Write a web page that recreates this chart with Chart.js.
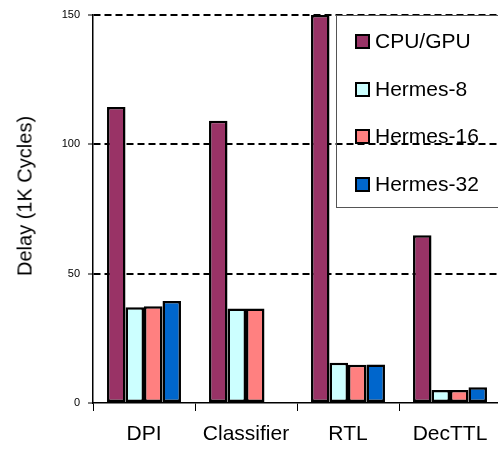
<!DOCTYPE html>
<html>
<head>
<meta charset="utf-8">
<script src="https://cdn.jsdelivr.net/npm/chart.js@4.4.0/dist/chart.umd.min.js"></script>
<style>
    body { margin: 0; overflow: hidden; background: #fff; }
    #wrap { position: relative; width: 498px; height: 451px; overflow: hidden; }
    #myChart { position: absolute; left: 0; top: 0; }
    #ytitle {
        position: absolute; left: 25px; top: 196px;
        transform: translate(-50%, -50%) rotate(-90deg);
        white-space: nowrap; font: 20px "Liberation Sans", Arial, sans-serif; color: #000;
    }
    #legend {
        position: absolute; left: 336px; top: 15px; width: 200px; height: 191px;
        border: 1px solid #555; font: 21px "Liberation Sans", Arial, sans-serif; color: #000;
    }
    .row { position: absolute; left: 18px; height: 24px; display: flex; align-items: center; white-space: nowrap; }
    .box { width: 11px; height: 11px; border: 2px solid #000; margin-right: 5px; }
</style>
</head>
<body>
<div id="wrap">
    <canvas id="myChart" width="504" height="451"></canvas>
    <div id="ytitle">Delay (1K Cycles)</div>
    <div id="legend"></div>
</div>
<script>
const categories = ['DPI', 'Classifier', 'RTL', 'DecTTL'];
const seriesNames = ['CPU/GPU', 'Hermes-8', 'Hermes-16', 'Hermes-32'];
const seriesColors = ['#993366', '#CCFFFF', '#FF8080', '#0066CC'];

const cpuGpu = [114.4, 109.1, 150, 64.9];
const hermes8 = [37.0, 36.5, 15.6, 5.0];
const hermes16 = [37.4, 36.5, 14.8, 5.0];
const hermes32 = [39.4, null, 14.9, 6.1];

const yTicks = [0, 50, 100, 150];

const values = [cpuGpu, hermes8, hermes16, hermes32];

document.addEventListener('DOMContentLoaded', function() {
    // legend rows, built from the series names and colours
    const legend = document.getElementById('legend');
    const rowTops = [13, 61, 108, 156];
    seriesNames.forEach((name, i) => {
        const row = document.createElement('div');
        row.className = 'row';
        row.style.top = rowTops[i] + 'px';
        row.innerHTML = '<div class="box" style="background:' + seriesColors[i] + '"></div><span>' + name + '</span>';
        legend.appendChild(row);
    });

    var ctx = document.getElementById('myChart').getContext('2d');
    var chart = new Chart(ctx, {
        type: 'bar',
        data: {
            labels: categories,
            datasets: seriesNames.map((name, i) => ({
                label: name,
                data: values[i],
                backgroundColor: seriesColors[i],
                borderColor: '#000',
                borderWidth: 2.5,
                borderSkipped: false,
                categoryPercentage: 0.725,
                barPercentage: 1.0
            }))
        },
        options: {
            responsive: false,
            animation: false,
            layout: { padding: { left: 0, top: 15, right: 3, bottom: 0 } },
            plugins: { legend: { display: false }, tooltip: { enabled: false } },
            scales: {
                x: {
                    offset: true,
                    grid: {
                        offset: true,
                        drawOnChartArea: false,
                        tickLength: 8,
                        tickColor: '#000',
                        tickWidth: 1
                    },
                    border: { color: '#000', width: 1.5 },
                    ticks: {
                        color: '#000',
                        padding: 11,
                        font: { family: '"Liberation Sans", Arial, sans-serif', size: 21 }
                    },
                    afterFit: (scale) => { scale.height = 48; }
                },
                y: {
                    min: 0,
                    max: 150,
                    afterBuildTicks: (scale) => { scale.ticks = yTicks.map(v => ({ value: v })); },
                    grid: {
                        color: (c) => c.tick && c.tick.value === 0 ? 'rgba(0,0,0,0)' : '#000',
                        lineWidth: 2,
                        tickLength: 5,
                        tickColor: '#000',
                        tickWidth: 1,
                        tickBorderDash: []
                    },
                    border: { color: '#000', width: 1.5, dash: [7, 4] },
                    ticks: {
                        color: '#000',
                        padding: 8,
                        font: { family: '"Liberation Sans", Arial, sans-serif', size: 11 }
                    },
                    afterFit: (scale) => { scale.width = 93; }
                }
            }
        }
    });
});
</script>
</body>
</html>
